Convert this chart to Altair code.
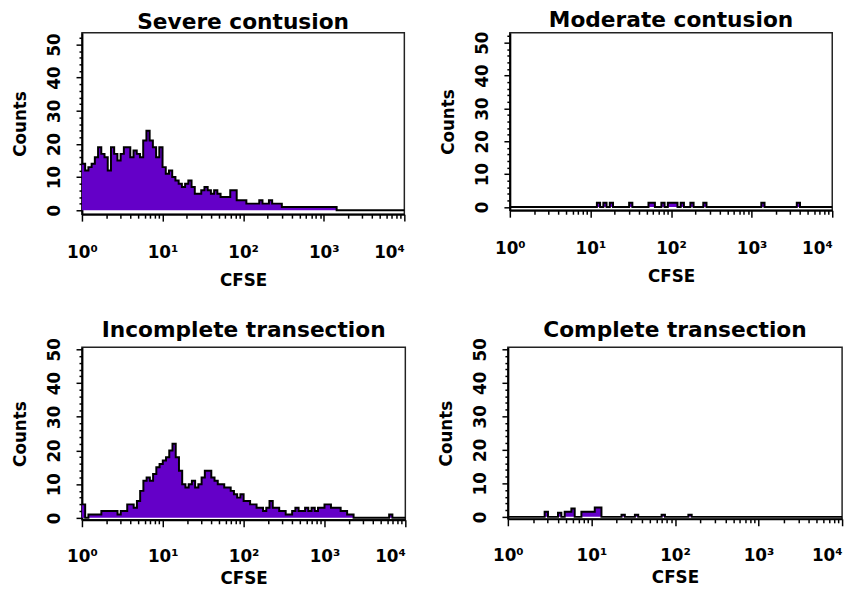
import altair as alt
import pandas as pd

# ---- data (log10 bins, 0.04 decade wide, from 10^0 to 10^4) ----
BIN_STEP = 0.04
N_BINS = 100

TITLES = ["Severe contusion", "Moderate contusion",
          "Incomplete transection", "Complete transection"]

SEVERE = [14, 12, 13, 14, 16, 19, 17, 16, 12, 19,
          17, 15, 17, 19, 19, 16, 18, 17, 16, 21,
          24, 21, 19, 16, 19, 13, 11, 12, 10, 9,
          8, 7, 8, 9, 7, 5, 5, 6, 7, 6,
          5, 6, 5, 4, 4, 4, 6, 6, 3, 3,
          3, 2, 2, 2, 2, 3, 2, 2, 3, 2,
          2, 2, 1, 1, 1, 1, 1, 1, 1, 1,
          1, 1, 1, 1, 1, 1, 1, 1, 1, 0,
          0, 0, 0, 0, 0, 0, 0, 0, 0, 0,
          0, 0, 0, 0, 0, 0, 0, 0, 0, 0]

INCOMPLETE = [4, 0, 1, 1, 1, 1, 2, 2, 2, 2,
              2, 1, 2, 2, 4, 4, 3, 5, 8, 11,
              12, 11, 13, 15, 16, 17, 18, 20, 22, 18,
              14, 10, 9, 10, 11, 9, 10, 12, 14, 14,
              12, 11, 10, 10, 9, 9, 8, 7, 6, 7,
              5, 5, 4, 4, 3, 3, 2, 3, 5, 3,
              3, 2, 2, 1, 1, 2, 3, 2, 2, 3,
              2, 3, 2, 3, 3, 4, 4, 3, 3, 3,
              2, 2, 1, 1, 0, 0, 0, 0, 0, 0,
              0, 0, 0, 0, 0, 1, 0, 0, 0, 0]

MODERATE_BINS = [27, 29, 31, 37, 43, 44, 47, 49, 50, 51, 53, 56, 60, 78, 89]
MODERATE_COUNTS = [1.3, 1.3, 1.3, 1.3, 1.3, 1.3, 1.3, 1.3, 1.3, 1.3,
                   1.3, 1.3, 1.3, 1.3, 1.3]

COMPLETE_BINS = [11, 15, 17, 18, 19, 22, 23, 24, 25, 26, 27, 34, 38, 46, 54]
COMPLETE_COUNTS = [1.5, 1.2, 1.5, 1.5, 2.5, 1.5, 1.5, 1.5, 1.5, 2.8, 2.8,
                   0.6, 0.6, 0.6, 0.6]

X_MAJOR = [1, 10, 100, 1000, 10000]
X_LABELS = ["10⁰", "10¹", "10²", "10³", "10⁴"]
Y_MAJOR = [0, 10, 20, 30, 40, 50]

PURPLE = "#6400c8"
FONT = "DejaVu Sans"


def sparse(bins, counts):
    out = [0.0] * N_BINS
    for b, c in zip(bins, counts):
        out[b] = c
    return out


X_MINOR = [m * d for d in [1, 10, 100, 1000] for m in range(2, 10)]
Y_MINOR = [v for v in range(0, 53, 2) if v % 10]
label_expr = "[" + ",".join("'%s'" % s for s in X_LABELS) + "][round(log(datum.value)/LN10)]"


def panel(title, counts, w, h, ydom, toff, lpad, tpad):
    xs = [10 ** (i * BIN_STEP) for i in range(N_BINS)] + [10 ** 4]
    df = pd.DataFrame({"cfse": xs, "count": list(counts) + [0]})
    xscale = alt.Scale(type="log", domain=[1, 10000], nice=False)
    yscale = alt.Scale(domain=ydom, nice=False, zero=False)
    base = alt.Chart(df)
    area = base.mark_area(interpolate="step-after", color=PURPLE, opacity=1).encode(
        x=alt.X("cfse:Q", scale=xscale,
                axis=alt.Axis(values=X_MINOR, labels=False, tickSize=4, title=None,
                              grid=False, orient="bottom", domain=False)),
        y=alt.Y("count:Q", scale=yscale,
                axis=alt.Axis(values=Y_MINOR, labels=False, tickSize=3, title=None,
                              grid=False, orient="left", domain=False)),
        y2=alt.datum(0),
    )
    line = base.mark_line(interpolate="step-after", color="black", strokeWidth=2).encode(
        x=alt.X("cfse:Q", scale=xscale,
                axis=alt.Axis(values=X_MAJOR, labelExpr=label_expr, tickSize=7,
                              title="CFSE", orient="bottom", grid=False,
                              labelFlush=False, labelOverlap=False,
                              labelAlign={"condition": {"test": "datum.value > 5000",
                                                        "value": "right"},
                                          "value": "center"},
                              labelPadding=lpad, titlePadding=tpad)),
        y=alt.Y("count:Q", scale=yscale,
                axis=alt.Axis(values=Y_MAJOR, tickSize=6, title="Counts",
                              labelAngle=270, orient="left", grid=False,
                              labelFlush=False, labelOverlap=False,
                              labelPadding=13, titlePadding=16)),
    )
    return alt.layer(area, line).resolve_axis(x="independent", y="independent").properties(
        width=w, height=h,
        title=alt.TitleParams(title, offset=toff),
    )


p1 = panel(TITLES[0], SEVERE, 327, 184, [-1.2, 53.5], -1, 24, 12)
p2 = panel(TITLES[1], sparse(MODERATE_BINS, MODERATE_COUNTS), 327, 180, [-1, 53], -1, 24, 12)
p3 = panel(TITLES[2], INCOMPLETE, 328, 175, [-0.6, 50.6], -4, 22, 7)
p4 = panel(TITLES[3], sparse(COMPLETE_BINS, COMPLETE_COUNTS), 339, 174, [-0.6, 50.6], -4, 22, 7)

chart = alt.vconcat(
    alt.hconcat(p1, p2, spacing=30),
    alt.hconcat(p3, p4, spacing=27),
    spacing=29,
).configure_view(
    stroke="#222", strokeWidth=1.5
).configure_axis(
    labelFont=FONT, labelFontWeight="bold", labelFontSize=17, labelColor="black",
    titleFont=FONT, titleFontWeight="bold", titleFontSize=17, titleColor="black",
    domainColor="black", domainWidth=2, tickColor="black", tickWidth=1.5,
).configure_title(
    font=FONT, fontWeight="bold", fontSize=22, color="black", anchor="middle",
).properties(
    padding={"left": 3, "top": -4, "right": 2, "bottom": 0},
    background="white",
)

chart.save("out.html", embed_options={"renderer": "svg", "actions": False})
